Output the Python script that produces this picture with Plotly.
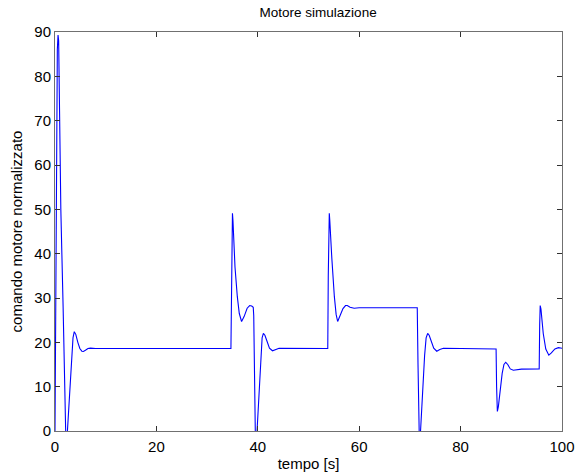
import plotly.graph_objects as go

# time [s]
tempo = [
    0, 0.1, 0.2, 0.33, 0.46, 0.6, 0.72, 0.9, 1.15, 1.6, 2.05, 2.25, 2.45, 2.95, 3.3, 3.55, 3.8, 4.1, 4.5, 4.9, 5.3, 5.6, 6.0, 6.5, 7.0, 8.0, 34.7,
    34.72, 34.8, 34.9, 35.0, 35.1, 35.2, 35.5, 35.96, 36.35, 36.8, 37.3, 37.9, 38.4, 38.8, 39.1, 39.2, 39.4, 39.6, 39.85, 40.3, 40.6, 40.85, 41.1, 41.4, 41.8, 42.3, 42.9, 43.5, 44.2, 53.75,
    53.8, 53.9, 54.0, 54.1, 54.2, 54.3, 54.6, 55.1, 55.45, 55.75, 56.2, 56.8, 57.3, 57.65, 58.2, 59.0, 60.0, 71.4,
    71.45, 71.6, 71.8, 71.95, 72.1, 72.55, 72.9, 73.2, 73.5, 73.8, 74.2, 74.7, 75.3, 75.9, 76.6, 86.95,
    87.0, 87.1, 87.25, 87.45, 87.8, 88.2, 88.55, 88.9, 89.3, 89.8, 90.4, 91.0, 92.0, 95.45,
    95.5, 95.6, 95.7, 95.85, 96.3, 96.8, 97.4, 97.9, 98.6, 99.3, 100.0,
]

# normalised motor command
comando = [
    0, 25, 47, 69, 86, 89.3, 88, 72, 50, 28, 0, -8, 0, 10, 17.5, 21, 22.4, 21.8, 20, 18.6, 18.0, 17.95, 18.2, 18.6, 18.7, 18.6, 18.6,
    18.6, 35, 46, 49.1, 47.5, 44.6, 37, 30.3, 26.5, 24.7, 25.8, 27.7, 28.3, 28.2, 27.9, 26, 0, -8, 0, 10, 17, 21, 22.0, 21.6, 20.3, 18.7, 18.1, 18.4, 18.65, 18.6,
    18.6, 35, 46, 49.1, 47.5, 44.6, 39, 30.3, 26.3, 24.7, 25.8, 27.6, 28.3, 28.3, 27.9, 27.7, 27.8, 27.8,
    27.8, 15, 0, -8, 0, 10, 17, 21, 22.0, 21.6, 20.2, 18.7, 18.0, 18.4, 18.65, 18.6,
    18.5, 10, 4.4, 5.5, 9.2, 13, 15, 15.5, 15.0, 14.0, 13.7, 13.85, 13.95, 14.0,
    14.0, 24, 28.3, 27.5, 22, 18.5, 17.1, 17.6, 18.5, 18.8, 18.65,
]

x_ticks = [0, 20, 40, 60, 80, 100]
y_ticks = [0, 10, 20, 30, 40, 50, 60, 70, 80, 90]

FONT = "Liberation Sans, Arial"

fig = go.Figure()
fig.add_trace(go.Scatter(x=tempo, y=comando, mode="lines",
                         line=dict(color="#0000ff", width=1.1),
                         showlegend=False, hoverinfo="skip"))

axis_common = dict(showline=True, linecolor="#707070", linewidth=1, mirror="ticks",
                   ticks="inside", ticklen=5, tickcolor="#303030", tickwidth=1,
                   showgrid=False, zeroline=False, automargin=False,
                   tickfont=dict(family=FONT, size=15, color="#000000"))

fig.update_layout(
    width=576, height=476,
    margin=dict(l=55, r=14, t=32, b=45),
    paper_bgcolor="white", plot_bgcolor="white",
    title=dict(text="Motore simulazione", xref="paper", x=0.519, xanchor="center",
               yref="container", y=0.974, yanchor="middle",
               font=dict(family=FONT, size=13.5, color="#000000")),
    xaxis=dict(range=[0, 100], tickvals=x_ticks, ticklabelstandoff=2,
               title=dict(text="tempo [s]", standoff=4,
                          font=dict(family=FONT, size=15, color="#000000")),
               **axis_common),
    yaxis=dict(range=[0, 90], tickvals=y_ticks,
               title=dict(text="comando motore normalizzato", standoff=8,
                          font=dict(family=FONT, size=15, color="#000000")),
               **axis_common),
)

# remove the default page margin so the figure fills the 576x476 window exactly
fig.write_html("out.html", config={"displayModeBar": False},
               post_script="document.body.style.margin='0';document.body.style.overflow='hidden';")
